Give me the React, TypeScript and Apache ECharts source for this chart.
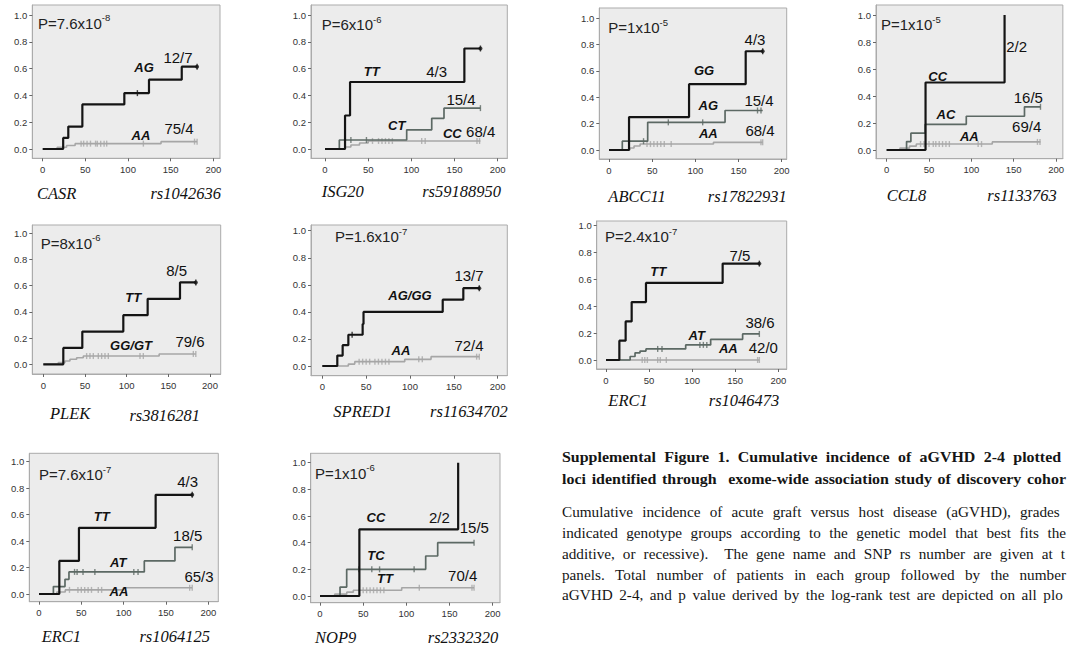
import React, { useEffect, useRef } from "react";
import * as echarts from "echarts";

// ---------------- DATA ----------------
// Cumulative incidence step curves: [day, cumulative incidence after event]
const CASR_AG = [[0, 0], [24, 0.083], [30, 0.167], [46.5, 0.333], [95.7, 0.417], [124.6, 0.517], [163, 0.614], [181, 0.614]];
const CASR_AG_CENSOR = [111, 181];
const CASR_AA = [[0, 0], [17, 0.013], [28, 0.026], [38, 0.04], [138.7, 0.055], [181, 0.055]];
const CASR_AA_CENSOR = [45, 48, 52, 56, 62, 64, 68, 72, 75, 118, 178, 181];

const ISG20_TT = [[0, 0], [23.2, 0.25], [29, 0.5], [161.4, 0.75], [180, 0.75]];
const ISG20_TT_CENSOR = [180];
const ISG20_CT = [[0, 0], [16.6, 0.067], [94.6, 0.143], [123.6, 0.229], [137.8, 0.305], [180, 0.305]];
const ISG20_CT_CENSOR = [30, 48, 180];
const ISG20_CC = [[0, 0], [23, 0.015], [30, 0.03], [40, 0.045], [50, 0.06], [180, 0.06]];
const ISG20_CC_CENSOR = [55, 62, 66, 70, 74, 78, 112, 116, 176, 179];

const ABCC11_GG = [[0, 0], [23.2, 0.25], [92.7, 0.5], [158.3, 0.75], [178, 0.75]];
const ABCC11_GG_CENSOR = [178];
const ABCC11_AG = [[0, 0], [15.4, 0.067], [44.8, 0.21], [134.4, 0.3], [178, 0.3]];
const ABCC11_AG_CENSOR = [40, 68.7, 108.5, 172, 176];
const ABCC11_AA = [[0, 0], [24, 0.015], [29, 0.03], [36, 0.045], [121, 0.058], [178, 0.058]];
const ABCC11_AA_CENSOR = [44, 48, 52, 56, 60, 64, 72, 176, 178];

const CCL8_CC = [[0, 0], [45.9, 0.5], [139.2, 1.0]];
const CCL8_CC_CENSOR: number[] = [];
const CCL8_AC = [[0, 0], [23.5, 0.0625], [28.6, 0.125], [45.5, 0.19], [94, 0.25], [162.7, 0.32], [181.6, 0.32]];
const CCL8_AC_CENSOR = [181.6];
const CCL8_AA = [[0, 0], [15.7, 0.014], [27, 0.029], [35, 0.044], [124.7, 0.06], [181.6, 0.06]];
const CCL8_AA_CENSOR = [40, 44, 50, 55, 58, 62, 66, 70, 74, 108, 112, 178, 181];

const PLEK_TT = [[0, 0], [24, 0.125], [46.8, 0.25], [96, 0.375], [125.2, 0.5], [164, 0.625], [183, 0.625]];
const PLEK_TT_CENSOR = [183];
const PLEK_GG = [[0, 0], [18, 0.013], [26, 0.025], [32, 0.038], [40, 0.05], [48, 0.063], [139, 0.079], [183, 0.079]];
const PLEK_GG_CENSOR = [52, 56, 60, 66, 70, 74, 78, 116, 120, 180, 183];

const SPRED1_AG = [[0, 0], [17.1, 0.077], [23.2, 0.154], [29.7, 0.231], [46, 0.31], [47, 0.4], [137.3, 0.49], [160.8, 0.575], [179, 0.575]];
const SPRED1_AG_CENSOR = [34, 179];
const SPRED1_AA = [[0, 0], [29.7, 0.014], [37, 0.032], [94, 0.049], [124, 0.069], [179, 0.069]];
const SPRED1_AA_CENSOR = [42, 46, 50, 54, 60, 64, 68, 72, 76, 110, 114, 176, 179];

const ERC1A_TT = [[0, 0], [15.5, 0.143], [22.8, 0.286], [29.8, 0.429], [46.4, 0.571], [135.4, 0.714], [178, 0.714]];
const ERC1A_TT_CENSOR = [178];
const ERC1A_AT = [[0, 0], [28, 0.026], [33.7, 0.053], [39.5, 0.066], [46.4, 0.082], [92.5, 0.112], [121.5, 0.153], [158.6, 0.193], [178, 0.193]];
const ERC1A_AT_CENSOR = [60, 65, 109, 113, 117, 178];
const ERC1A_AA = [[0, 0], [178, 0]];
const ERC1A_AA_CENSOR = [42, 45, 48, 60, 63, 70, 176, 178];

const ERC1B_TT = [[0, 0], [24, 0.25], [47.2, 0.5], [137.8, 0.75], [181, 0.75]];
const ERC1B_TT_CENSOR = [181];
const ERC1B_AT = [[0, 0], [17, 0.056], [30.7, 0.111], [35.4, 0.167], [124.4, 0.25], [160.6, 0.353], [181, 0.353]];
const ERC1B_AT_CENSOR = [42, 45, 52, 66, 112, 117, 181];
const ERC1B_AA = [[0, 0], [21, 0.015], [31, 0.031], [99.6, 0.047], [181, 0.047]];
const ERC1B_AA_CENSOR = [36, 46, 50, 54, 58, 62, 70, 74, 178, 181];

const NOP9_CC = [[0, 0], [45.6, 0.5], [160, 1.0]];
const NOP9_CC_CENSOR: number[] = [];
const NOP9_TC = [[0, 0], [23.2, 0.067], [30.9, 0.2], [122.4, 0.3], [136.3, 0.4], [178.4, 0.4]];
const NOP9_TC_CENSOR = [45, 60, 69, 109, 178.4];
const NOP9_TT = [[0, 0], [17, 0.014], [31, 0.029], [38.6, 0.043], [94.6, 0.062], [178.4, 0.062]];
const NOP9_TT_CENSOR = [50, 54, 58, 62, 66, 70, 74, 115, 176, 178.4];

// Tick labels
const X_TICKS = [0, 50, 100, 150, 200];
const Y_TICKS = [0, 0.2, 0.4, 0.6, 0.8, 1.0];

// Caption text (as visible in the reference, which is cut at the right edge)
const CAPTION_BOLD = [
  "Supplemental Figure 1. Cumulative incidence of aGVHD 2-4 plotted",
  "loci identified through  exome-wide association study of discovery cohor",
];
const CAPTION_BODY = [
  "Cumulative incidence of acute graft versus host disease (aGVHD), grades",
  "indicated genotype groups according to the genetic model that best fits the",
  "additive, or recessive).  The gene name and SNP rs number are given at t",
  "panels. Total number of patients in each group followed by the number",
  "aGVHD 2-4, and p value derived by the log-rank test are depicted on all plo",
];

// ---------------- LAYOUT / STYLE ----------------
const SANS = '"Liberation Sans", Arial, sans-serif';
const SERIF = '"Liberation Serif", "Times New Roman", serif';
const COLORS: Record<string, string> = { k: "#141414", d: "#5c6964", l: "#a6a6a6" };
const WIDTHS: Record<string, number> = { k: 2.2, d: 1.7, l: 1.6 };
const ZS: Record<string, number> = { k: 4, d: 3, l: 2 };

type Curve = { data: number[][]; censor: number[]; c: string };
type Lbl = { t: string; x: number; y: number; g?: boolean };
type Panel = {
  box: number[]; // L, T, R, B
  x0: number; x200: number; y0: number; y1: number;
  curves: Curve[];
  p: string; sup: string; pAt: number[];
  gene: string; snp: string; geneAt: number[]; snpAt: number[];
  labels: Lbl[];
};

const PANELS: Panel[] = [
  {
    box: [32.3, 5, 220, 158.3], x0: 42.7, x200: 213.3, y0: 149, y1: 15,
    curves: [
      { data: CASR_AA, censor: CASR_AA_CENSOR, c: "l" },
      { data: CASR_AG, censor: CASR_AG_CENSOR, c: "k" },
    ],
    p: "P=7.6x10", sup: "-8", pAt: [38, 21.5],
    gene: "CASR", snp: "rs1042636", geneAt: [37, 193], snpAt: [221, 193],
    labels: [
      { t: "AG", x: 144, y: 67, g: true }, { t: "12/7", x: 178, y: 57 },
      { t: "AA", x: 141, y: 135, g: true }, { t: "75/4", x: 179, y: 128 },
    ],
  },
  {
    box: [311, 5, 507.3, 158.3], x0: 325, x200: 497.7, y0: 149, y1: 15,
    curves: [
      { data: ISG20_CC, censor: ISG20_CC_CENSOR, c: "l" },
      { data: ISG20_CT, censor: ISG20_CT_CENSOR, c: "d" },
      { data: ISG20_TT, censor: ISG20_TT_CENSOR, c: "k" },
    ],
    p: "P=6x10", sup: "-6", pAt: [321.7, 23],
    gene: "ISG20", snp: "rs59188950", geneAt: [321.7, 191.7], snpAt: [501, 191.7],
    labels: [
      { t: "TT", x: 371.7, y: 71, g: true }, { t: "4/3", x: 436.7, y: 71 },
      { t: "15/4", x: 461, y: 99 }, { t: "CT", x: 396.7, y: 125, g: true },
      { t: "CC", x: 452.3, y: 133.3, g: true }, { t: "68/4", x: 480.7, y: 131.7 },
    ],
  },
  {
    box: [599.3, 8, 786.7, 159], x0: 609, x200: 781.7, y0: 150, y1: 18.3,
    curves: [
      { data: ABCC11_AA, censor: ABCC11_AA_CENSOR, c: "l" },
      { data: ABCC11_AG, censor: ABCC11_AG_CENSOR, c: "d" },
      { data: ABCC11_GG, censor: ABCC11_GG_CENSOR, c: "k" },
    ],
    p: "P=1x10", sup: "-5", pAt: [608.3, 26],
    gene: "ABCC11", snp: "rs17822931", geneAt: [608.3, 196.7], snpAt: [786.7, 196.7],
    labels: [
      { t: "4/3", x: 755, y: 39.3 }, { t: "GG", x: 704, y: 70.7, g: true },
      { t: "AG", x: 708.3, y: 105, g: true }, { t: "15/4", x: 759, y: 100 },
      { t: "AA", x: 708.3, y: 133.3, g: true }, { t: "68/4", x: 760, y: 130 },
    ],
  },
  {
    box: [876, 5, 1063.5, 158.7], x0: 886.7, x200: 1056.7, y0: 150, y1: 15,
    curves: [
      { data: CCL8_AA, censor: CCL8_AA_CENSOR, c: "l" },
      { data: CCL8_AC, censor: CCL8_AC_CENSOR, c: "d" },
      { data: CCL8_CC, censor: CCL8_CC_CENSOR, c: "k" },
    ],
    p: "P=1x10", sup: "-5", pAt: [881, 23.3],
    gene: "CCL8", snp: "rs1133763", geneAt: [886.7, 195], snpAt: [1056.7, 195],
    labels: [
      { t: "2/2", x: 1016.7, y: 46.7 }, { t: "CC", x: 937.7, y: 76, g: true },
      { t: "16/5", x: 1028.3, y: 97.7 }, { t: "AC", x: 946, y: 114.3, g: true },
      { t: "AA", x: 969.3, y: 136.7, g: true }, { t: "69/4", x: 1026.7, y: 126.7 },
    ],
  },
  {
    box: [32.3, 225, 220.7, 374], x0: 43.3, x200: 210, y0: 364.3, y1: 233.3,
    curves: [
      { data: PLEK_GG, censor: PLEK_GG_CENSOR, c: "l" },
      { data: PLEK_TT, censor: PLEK_TT_CENSOR, c: "k" },
    ],
    p: "P=8x10", sup: "-6", pAt: [40.7, 241.7],
    gene: "PLEK", snp: "rs3816281", geneAt: [50, 413], snpAt: [200, 415],
    labels: [
      { t: "8/5", x: 176.7, y: 270 }, { t: "TT", x: 133.3, y: 297.3, g: true },
      { t: "GG/GT", x: 131, y: 345, g: true }, { t: "79/6", x: 190, y: 341.7 },
    ],
  },
  {
    box: [311, 225, 507.3, 375.7], x0: 322.3, x200: 497.7, y0: 366, y1: 230.7,
    curves: [
      { data: SPRED1_AA, censor: SPRED1_AA_CENSOR, c: "l" },
      { data: SPRED1_AG, censor: SPRED1_AG_CENSOR, c: "k" },
    ],
    p: "P=1.6x10", sup: "-7", pAt: [335, 235],
    gene: "SPRED1", snp: "rs11634702", geneAt: [333.3, 411.7], snpAt: [507.7, 411.7],
    labels: [
      { t: "13/7", x: 469, y: 275 }, { t: "AG/GG", x: 410, y: 295, g: true },
      { t: "AA", x: 401, y: 350, g: true }, { t: "72/4", x: 469, y: 345 },
    ],
  },
  {
    box: [596.7, 221, 786.7, 369], x0: 606, x200: 778.3, y0: 360, y1: 225,
    curves: [
      { data: ERC1A_AA, censor: ERC1A_AA_CENSOR, c: "l" },
      { data: ERC1A_AT, censor: ERC1A_AT_CENSOR, c: "d" },
      { data: ERC1A_TT, censor: ERC1A_TT_CENSOR, c: "k" },
    ],
    p: "P=2.4x10", sup: "-7", pAt: [605, 235],
    gene: "ERC1", snp: "rs1046473", geneAt: [608.3, 400], snpAt: [779.3, 400],
    labels: [
      { t: "7/5", x: 740, y: 255 }, { t: "TT", x: 658.3, y: 271.7, g: true },
      { t: "38/6", x: 760, y: 322.7 }, { t: "AT", x: 696.7, y: 335, g: true },
      { t: "AA", x: 728.3, y: 348.3, g: true }, { t: "42/0", x: 763.3, y: 347.7 },
    ],
  },
  {
    box: [29.3, 453.3, 218.3, 601.7], x0: 39, x200: 208.3, y0: 594, y1: 461.7,
    curves: [
      { data: ERC1B_AA, censor: ERC1B_AA_CENSOR, c: "l" },
      { data: ERC1B_AT, censor: ERC1B_AT_CENSOR, c: "d" },
      { data: ERC1B_TT, censor: ERC1B_TT_CENSOR, c: "k" },
    ],
    p: "P=7.6x10", sup: "-7", pAt: [39, 473.3],
    gene: "ERC1", snp: "rs1064125", geneAt: [41.7, 636.7], snpAt: [210, 636.7],
    labels: [
      { t: "4/3", x: 187.7, y: 481.7 }, { t: "TT", x: 101.7, y: 516.7, g: true },
      { t: "18/5", x: 187.7, y: 535.7 }, { t: "AT", x: 118.3, y: 562.7, g: true },
      { t: "65/3", x: 199, y: 576.7 }, { t: "AA", x: 119, y: 591.7, g: true },
    ],
  },
  {
    box: [310.7, 453.3, 500, 602.7], x0: 320, x200: 492.7, y0: 596, y1: 462.7,
    curves: [
      { data: NOP9_TT, censor: NOP9_TT_CENSOR, c: "l" },
      { data: NOP9_TC, censor: NOP9_TC_CENSOR, c: "d" },
      { data: NOP9_CC, censor: NOP9_CC_CENSOR, c: "k" },
    ],
    p: "P=1x10", sup: "-6", pAt: [315, 471.7],
    gene: "NOP9", snp: "rs2332320", geneAt: [315, 637.3], snpAt: [498.3, 637.3],
    labels: [
      { t: "CC", x: 376, y: 517.3, g: true }, { t: "2/2", x: 439.3, y: 517.3 },
      { t: "15/5", x: 474.3, y: 527.7 }, { t: "TC", x: 376, y: 555, g: true },
      { t: "TT", x: 385, y: 578.3, g: true }, { t: "70/4", x: 462.7, y: 575.7 },
    ],
  },
];

const CAP_LEFT = 562;
const CAP_RIGHT = 1066;
const CAP_BOLD_SIZE = 14.5;
const CAP_BOLD_SX = 1.1;
const CAP_BODY_SIZE = 14.5;
const CAP_BODY_SX = 1.05;
const CAP_BOLD_Y = [456.7, 478.3];
const CAP_BOLD_LAST = [1013.3, 1031.7];
const CAP_BODY_Y = [511.7, 533.3, 554.3, 575, 595];
const CAP_BODY_LAST = [1020, 1048.3, 1060.7, 1028.3, 1043.3];

function valueAt(data: number[][], t: number): number {
  let v = data[0][1];
  for (const p of data) if (p[0] <= t + 1e-9) v = p[1];
  return v;
}

let measureCtx: CanvasRenderingContext2D | null = null;
function measure(text: string, font: string): number {
  if (!measureCtx) measureCtx = document.createElement("canvas").getContext("2d");
  if (!measureCtx) return text.length * 7;
  measureCtx.font = font;
  return measureCtx.measureText(text).width;
}

function buildOption() {
  const grid: any[] = [];
  const xAxis: any[] = [];
  const yAxis: any[] = [];
  const series: any[] = [];
  const graphic: any[] = [];

  PANELS.forEach((pn, i) => {
    const [L, T, R, B] = pn.box;
    const pxX = (pn.x200 - pn.x0) / 200;
    const pxY = pn.y0 - pn.y1;
    grid.push({
      left: L, top: T, width: R - L, height: B - T,
      show: true, backgroundColor: "#ececec", borderColor: "#ababab", borderWidth: 1,
      containLabel: false,
    });
    xAxis.push({
      type: "value", gridIndex: i,
      min: -(pn.x0 - L) / pxX, max: 200 + (R - pn.x200) / pxX,
      axisLine: { show: true, onZero: false, lineStyle: { color: "#ababab", width: 1 } },
      axisTick: { show: true, customValues: X_TICKS, length: 3, lineStyle: { color: "#666" } },
      axisLabel: { show: true, customValues: X_TICKS, fontSize: 9.5, fontFamily: SANS, color: "#333", margin: 6 },
      splitLine: { show: false },
    });
    yAxis.push({
      type: "value", gridIndex: i,
      min: -(B - pn.y0) / pxY, max: 1 + (pn.y1 - T) / pxY,
      axisLine: { show: true, onZero: false, lineStyle: { color: "#ababab", width: 1 } },
      axisTick: { show: true, customValues: Y_TICKS, length: 3, lineStyle: { color: "#666" } },
      axisLabel: {
        show: true, customValues: Y_TICKS, fontSize: 9.5, fontFamily: SANS, color: "#333", margin: 5,
        formatter: (v: number) => v.toFixed(1),
      },
      splitLine: { show: false },
    });
    pn.curves.forEach((cv) => {
      const color = COLORS[cv.c];
      series.push({
        type: "line", xAxisIndex: i, yAxisIndex: i, data: cv.data, step: "end",
        showSymbol: false, symbol: "none", silent: true, z: ZS[cv.c],
        lineStyle: { color, width: WIDTHS[cv.c] },
      });
      if (cv.censor.length) {
        series.push({
          type: "scatter", xAxisIndex: i, yAxisIndex: i, silent: true, z: ZS[cv.c],
          data: cv.censor.map((t) => [t, valueAt(cv.data, t)]),
          symbol: "rect", symbolSize: [1.4, 6], itemStyle: { color },
        });
      }
      if (cv.c === "k" && cv.censor.length) {
        const last = cv.data[cv.data.length - 1];
        series.push({
          type: "scatter", xAxisIndex: i, yAxisIndex: i, silent: true, z: ZS[cv.c],
          data: [last], symbol: "circle", symbolSize: 4, itemStyle: { color },
        });
      }
    });

    // P value with superscript
    graphic.push({
      type: "text", x: pn.pAt[0], y: pn.pAt[1], z: 100, silent: true,
      style: {
        text: `{m|${pn.p}}{s|${pn.sup}}`, verticalAlign: "middle", align: "left",
        rich: {
          m: { fontSize: 15, fontFamily: SANS, fill: "#222", lineHeight: 18, verticalAlign: "bottom" },
          s: { fontSize: 9.5, fontFamily: SANS, fill: "#222", lineHeight: 9, verticalAlign: "top" },
        },
      },
    });
    pn.labels.forEach((lb) => {
      graphic.push({
        type: "text", x: lb.x, y: lb.y, z: 100, silent: true,
        style: {
          text: lb.t, align: "center", verticalAlign: "middle", fill: "#111",
          fontFamily: SANS,
          fontSize: lb.g ? 13 : 15,
          fontWeight: lb.g ? "bold" : "normal",
          fontStyle: lb.g ? "italic" : "normal",
        },
      });
    });
    graphic.push({
      type: "text", x: pn.geneAt[0], y: pn.geneAt[1], z: 100, silent: true,
      style: { text: pn.gene, align: "left", verticalAlign: "middle", fill: "#111", fontFamily: SERIF, fontStyle: "italic", fontSize: 16.5 },
    });
    graphic.push({
      type: "text", x: pn.snpAt[0], y: pn.snpAt[1], z: 100, silent: true,
      style: { text: pn.snp, align: "right", verticalAlign: "middle", fill: "#111", fontFamily: SERIF, fontStyle: "italic", fontSize: 16.5 },
    });
  });

  // Caption: justified words; the last word is kept inside the page
  const addLine = (text: string, y: number, lastStartRef: number, bold: boolean) => {
    const size = bold ? CAP_BOLD_SIZE : CAP_BODY_SIZE;
    const sx = bold ? CAP_BOLD_SX : CAP_BODY_SX;
    const words = text.split(" ");
    const font = `${bold ? "bold " : ""}${size}px "Liberation Serif"`;
    const widths = words.map((w) => (w ? measure(w, font) * sx : 0));
    const n = words.length;
    const lastStart = Math.min(lastStartRef, CAP_RIGHT - widths[n - 1]);
    let lead = 0;
    for (let k = 0; k < n - 1; k++) lead += widths[k];
    const gap = (lastStart - CAP_LEFT - lead) / (n - 1);
    let x = CAP_LEFT;
    words.forEach((w, k) => {
      if (w) {
        graphic.push({
          type: "text", x, y, scaleX: sx, z: 100, silent: true,
          style: {
            text: w, align: "left", verticalAlign: "middle", fill: "#151515",
            fontFamily: SERIF, fontSize: size, fontWeight: bold ? "bold" : "normal",
          },
        });
      }
      x += widths[k] + gap;
    });
  };
  CAPTION_BOLD.forEach((t, k) => addLine(t, CAP_BOLD_Y[k], CAP_BOLD_LAST[k], true));
  CAPTION_BODY.forEach((t, k) => addLine(t, CAP_BODY_Y[k], CAP_BODY_LAST[k], false));

  return { animation: false, backgroundColor: "#ffffff", grid, xAxis, yAxis, series, graphic };
}

export default function App() {
  const ref = useRef<HTMLDivElement>(null);
  useEffect(() => {
    if (!ref.current) return;
    const chart = echarts.init(ref.current, null, { renderer: "svg" });
    chart.setOption(buildOption());
    return () => chart.dispose();
  }, []);
  return (
    <div
      ref={ref}
      style={{ position: "fixed", left: 0, top: 0, width: 1067, height: 649, background: "#fff" }}
    />
  );
}
